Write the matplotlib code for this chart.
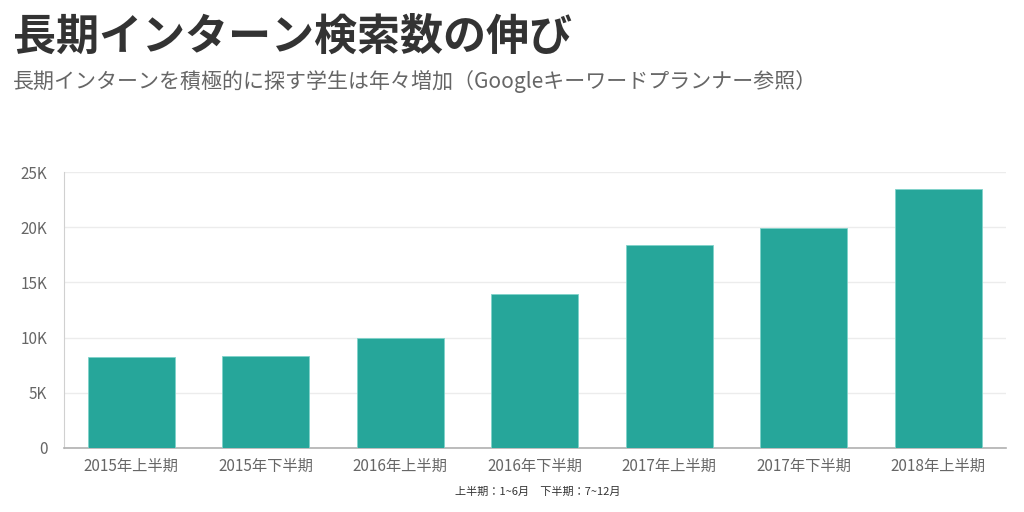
import matplotlib
matplotlib.use("Agg")
import matplotlib.pyplot as plt
from matplotlib.ticker import FuncFormatter

plt.rcParams['font.family'] = ['Noto Sans CJK JP', 'DejaVu Sans']

periodos = ["2015年上半期", "2015年下半期", "2016年上半期", "2016年下半期",
            "2017年上半期", "2017年下半期", "2018年上半期"]
busquedas = [8250, 8330, 9970, 13950, 18350, 19900, 23450]
ticks_y = [0, 5000, 10000, 15000, 20000, 25000]

fig = plt.figure(figsize=(10.24, 5.12), dpi=100)
ax = fig.add_axes([0.0625, 0.125, 0.9195, 0.539])

ax.bar(range(len(periodos)), busquedas, width=0.645, color="#26a69a",
       edgecolor="#7fd3ca", linewidth=0.6, zorder=3)

ax.set_xlim(-0.5, len(periodos) - 0.5)
ax.set_ylim(0, 25000)
ax.set_yticks(ticks_y)
ax.yaxis.set_major_formatter(FuncFormatter(lambda v, p: "0" if v == 0 else f"{int(v / 1000)}K"))
ax.set_xticks(range(len(periodos)))
ax.set_xticklabels(periodos)

ax.grid(axis="y", color="#ececec", linewidth=1, zorder=0)
ax.tick_params(axis="both", length=0, labelsize=11, labelcolor="#666666")
ax.tick_params(axis="y", pad=12)
ax.tick_params(axis="x", pad=7)
for lado in ["top", "right"]:
    ax.spines[lado].set_visible(False)
ax.spines["left"].set_color("#d0d0d0")
ax.spines["bottom"].set_color("#b0b0b0")
ax.spines["bottom"].set_linewidth(1.2)

fig.text(0.013, 0.928, "長期インターン検索数の伸び", fontsize=31, fontweight="bold",
         color="#333333", va="center", ha="left")
fig.text(0.013, 0.841, "長期インターンを積極的に探す学生は年々増加（Googleキーワードプランナー参照）",
         fontsize=15.1, color="#666666", va="center", ha="left")
fig.text(0.525, 0.039, "上半期：1~6月　下半期：7~12月", fontsize=8,
         color="#333333", va="center", ha="center")

fig.savefig("out.png", dpi=100)
